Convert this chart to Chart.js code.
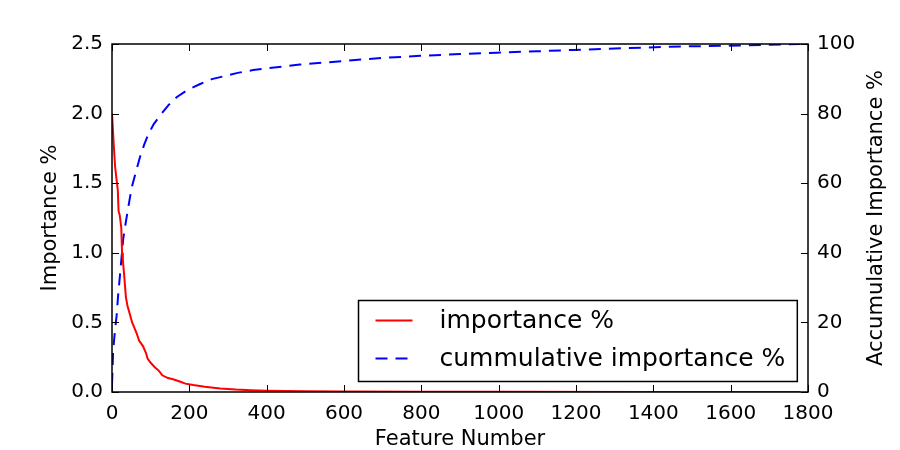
<!DOCTYPE html>
<html>
<head>
<meta charset="utf-8">
<script src="https://cdn.jsdelivr.net/npm/chart.js@4/dist/chart.umd.min.js"></script>
<style>
  html, body { margin: 0; padding: 0; background: #fff; }
  #wrap { width: 900px; height: 450px; }
</style>
</head>
<body>
<div id="wrap"><canvas id="grafico" width="900" height="450"></canvas></div>
<script>
// valores
var feat_importancia = [0, 4, 8, 12, 15, 17, 20, 24, 26, 28, 32, 36, 40, 46, 52, 58, 64, 70, 80, 88, 92, 100, 110, 122, 130, 145, 160, 175, 190, 210, 240, 280, 320, 360, 400, 500, 600, 800, 1000, 1400, 1780];
var importancia = [2.0, 1.80, 1.62, 1.52, 1.45, 1.30, 1.27, 1.18, 1.0, 0.95, 0.82, 0.68, 0.62, 0.56, 0.50, 0.46, 0.42, 0.37, 0.33, 0.28, 0.24, 0.21, 0.18, 0.15, 0.12, 0.10, 0.09, 0.075, 0.06, 0.05, 0.038, 0.026, 0.018, 0.013, 0.009, 0.005, 0.003, 0.0015, 0.001, 0.0005, 0.0];

var feat_acumulada = [0, 3, 8, 12, 16, 21, 29, 36, 42, 51, 60, 72, 83, 94, 108, 124, 145, 167, 195, 228, 258, 288, 325, 365, 400, 486, 607, 700, 797, 900, 995, 1100, 1193, 1300, 1383, 1480, 1580, 1680, 1780];
var acumulada = [2, 12, 18, 22, 28, 34, 44, 49, 53, 58.8, 62.5, 67.4, 71, 74.1, 77, 79.4, 82.3, 84.7, 86.8, 88.5, 89.9, 90.7, 91.7, 92.5, 93, 94.1, 95.2, 96, 96.6, 97.1, 97.5, 97.9, 98.3, 98.7, 99, 99.3, 99.5, 99.7, 100];

var rotulos = ["importance %", "cummulative importance %"];
var titulo_x = "Feature Number";
var titulo_y = "Importance %";
var titulo_y2 = "Accumulative Importance %";

var fonte = "'DejaVu Sans', sans-serif";

function pares(xs, ys) {
    var r = [];
    for (var i = 0; i < xs.length; i++) r.push({ x: xs[i], y: ys[i] });
    return r;
}

// moldura, ticks para dentro, legenda e titulo da direita
var estilo_classico = {
    id: 'estilo_classico',
    afterDatasetsDraw: function(chart) {
        var ctx = chart.ctx;
        var a = chart.chartArea;
        var sx = chart.scales.x, sy = chart.scales.y, sy2 = chart.scales.y2;
        var tl = 7;
        ctx.save();
        ctx.strokeStyle = '#000';
        ctx.lineWidth = 1;
        ctx.beginPath();
        sx.ticks.forEach(function(t) {
            var px = Math.round(sx.getPixelForValue(t.value)) + 0.5;
            ctx.moveTo(px, a.bottom); ctx.lineTo(px, a.bottom - tl);
            ctx.moveTo(px, a.top); ctx.lineTo(px, a.top + tl);
        });
        sy.ticks.forEach(function(t) {
            var py = Math.round(sy.getPixelForValue(t.value)) + 0.5;
            ctx.moveTo(a.left, py); ctx.lineTo(a.left + tl, py);
        });
        sy2.ticks.forEach(function(t) {
            var py = Math.round(sy2.getPixelForValue(t.value)) + 0.5;
            ctx.moveTo(a.right, py); ctx.lineTo(a.right - tl, py);
        });
        ctx.stroke();

        ctx.lineWidth = 1.5;
        ctx.strokeRect(a.left, a.top, a.right - a.left, a.bottom - a.top);

        // legenda
        ctx.font = "25px " + fonte;
        var larg = 0;
        chart.data.datasets.forEach(function(d) {
            larg = Math.max(larg, ctx.measureText(d.label).width);
        });
        var w = 81 + larg + 12, h = 81;
        var bx = Math.round(a.right - 11 - w) + 0.5, by = Math.round(a.bottom - 11 - h) + 0.5;
        ctx.fillStyle = '#fff';
        ctx.fillRect(bx, by, w, h);
        ctx.strokeStyle = '#000';
        ctx.lineWidth = 1.5;
        ctx.strokeRect(bx, by, w, h);
        chart.data.datasets.forEach(function(d, i) {
            var ly = by + 20 + i * 38;
            ctx.strokeStyle = d.borderColor;
            ctx.lineWidth = d.borderWidth;
            ctx.setLineDash(d.borderDash || []);
            ctx.beginPath();
            ctx.moveTo(bx + 17, ly); ctx.lineTo(bx + 54, ly);
            ctx.stroke();
            ctx.setLineDash([]);
            ctx.fillStyle = '#000';
            ctx.textBaseline = 'middle';
            ctx.textAlign = 'left';
            ctx.fillText(d.label, bx + 81, ly + 1);
        });

        // titulo do eixo da direita, lido de baixo para cima
        ctx.font = "21px " + fonte;
        ctx.translate(877, (a.top + a.bottom) / 2);
        ctx.rotate(-Math.PI / 2);
        ctx.textAlign = 'center';
        ctx.textBaseline = 'middle';
        ctx.fillText(titulo_y2, 0, 0);
        ctx.restore();
    }
};

var canvas = document.getElementById("grafico");
var chart = new Chart(canvas, {
    type: 'line',
    data: {
        datasets: [
            {
                label: rotulos[0],
                data: pares(feat_importancia, importancia),
                yAxisID: 'y',
                borderColor: '#ff0000',
                borderWidth: 2,
                pointRadius: 0,
                fill: false,
                tension: 0
            },
            {
                label: rotulos[1],
                data: pares(feat_acumulada, acumulada),
                yAxisID: 'y2',
                borderColor: '#0000ff',
                borderWidth: 2,
                borderDash: [12, 8],
                pointRadius: 0,
                fill: false,
                tension: 0
            }
        ]
    },
    options: {
        responsive: false,
        animation: false,
        layout: { padding: { top: 44, left: 0, right: 0, bottom: 0 } },
        plugins: { legend: { display: false }, tooltip: { enabled: false } },
        scales: {
            x: {
                type: 'linear',
                min: 0, max: 1800,
                grid: { display: false, drawTicks: false },
                border: { display: false },
                ticks: { stepSize: 200, padding: 10, color: '#000', font: { family: fonte, size: 20 }, maxRotation: 0,
                         callback: function(v) { return String(v); } },
                title: { display: true, text: titulo_x, color: '#000', font: { family: fonte, size: 21, lineHeight: 1 }, padding: { top: 0, bottom: 0 } },
                afterFit: function(s) { s.height = 58; }
            },
            y: {
                position: 'left',
                min: 0, max: 2.5,
                grid: { display: false, drawTicks: false },
                border: { display: false },
                ticks: { stepSize: 0.5, padding: 9, color: '#000', font: { family: fonte, size: 20 },
                         callback: function(v) { return v.toFixed(1); } },
                title: { display: true, text: titulo_y, color: '#000', font: { family: fonte, size: 21, lineHeight: 1 }, padding: { top: 40, bottom: 0 } },
                afterFit: function(s) { s.width = 112; }
            },
            y2: {
                position: 'right',
                min: 0, max: 100,
                grid: { display: false, drawTicks: false },
                border: { display: false },
                ticks: { stepSize: 20, padding: 9, color: '#000', font: { family: fonte, size: 20 } },
                afterFit: function(s) { s.width = 92; }
            }
        }
    },
    plugins: [estilo_classico]
});
</script>
</body>
</html>
